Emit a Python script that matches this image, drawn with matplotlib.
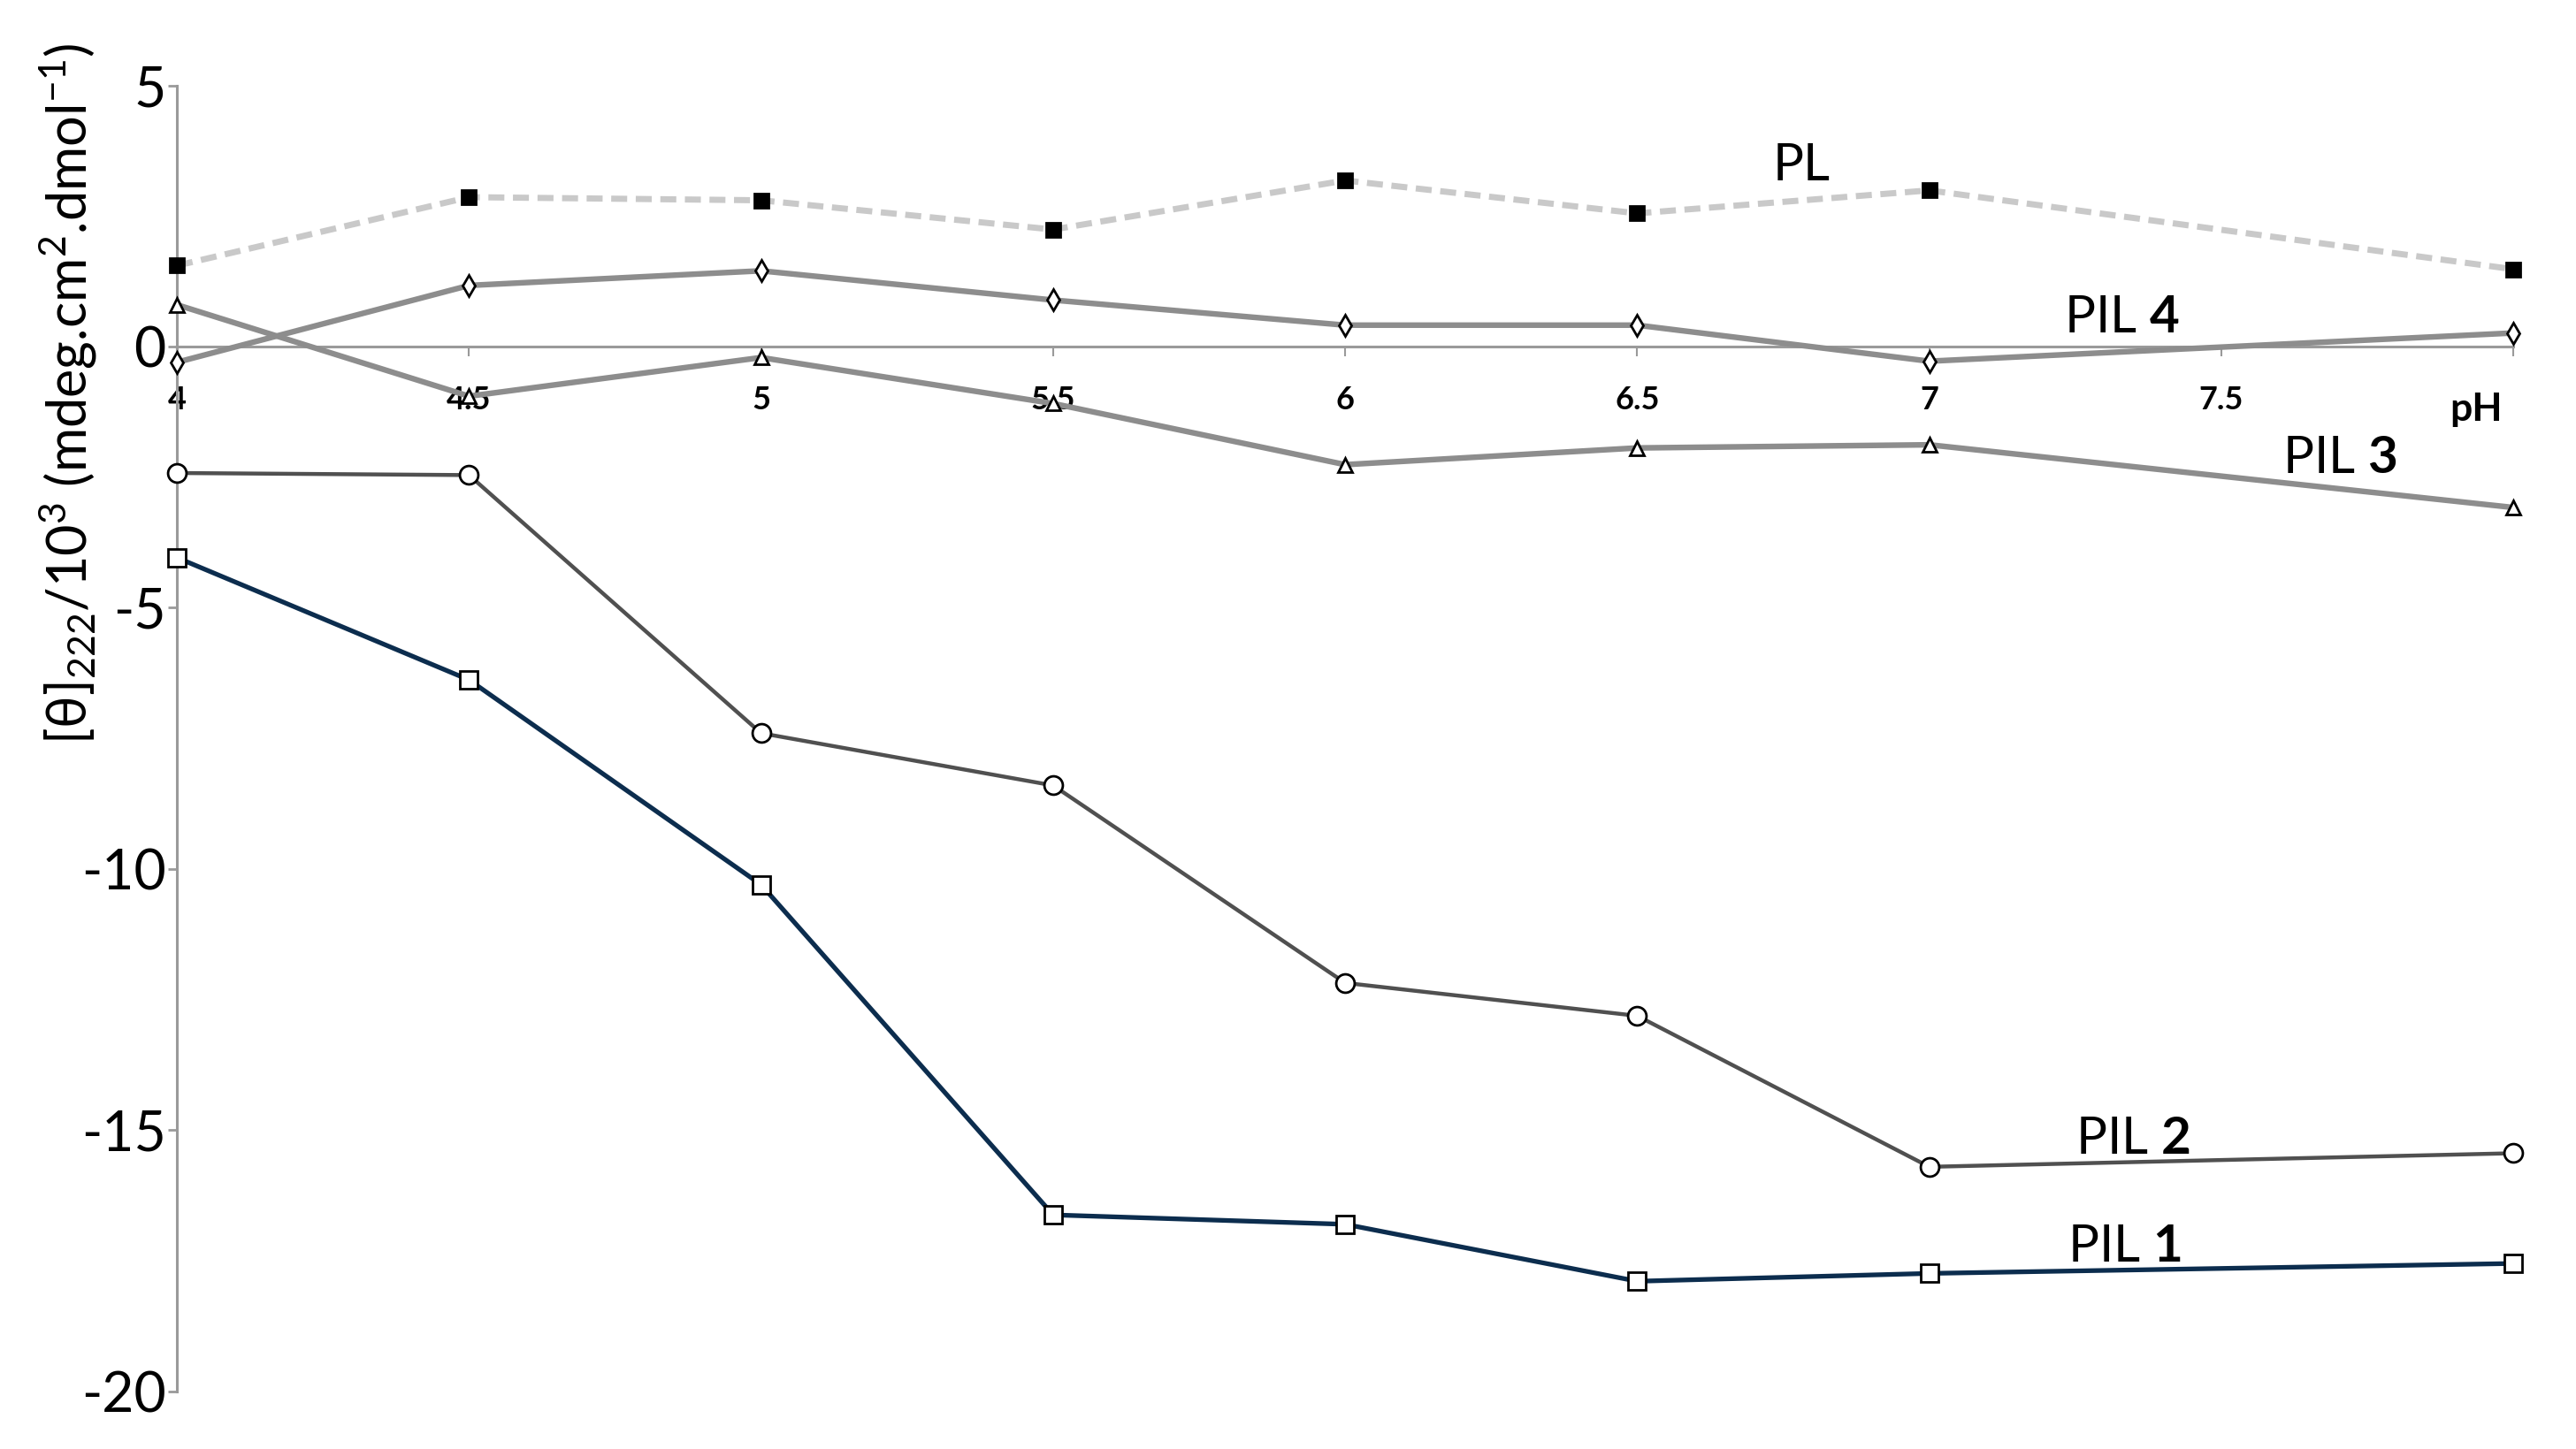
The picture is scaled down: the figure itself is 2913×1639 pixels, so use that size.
import matplotlib.pyplot as plt

# pH values measured
ph_values = [4, 4.5, 5, 5.5, 6, 6.5, 7, 8]
x_ticks = [4, 4.5, 5, 5.5, 6, 6.5, 7, 7.5, 8]
x_tick_labels = ["4", "4.5", "5", "5.5", "6", "6.5", "7", "7.5", ""]
y_ticks = [-20, -15, -10, -5, 0, 5]

# [theta]222 / 10^3 for each sample
pl_values = [1.55, 2.86, 2.80, 2.24, 3.18, 2.55, 2.99, 1.48]
pil4_values = [-0.30, 1.17, 1.45, 0.89, 0.41, 0.41, -0.28, 0.26]
pil3_values = [0.80, -0.95, -0.21, -1.09, -2.26, -1.94, -1.88, -3.08]
pil2_values = [-2.42, -2.46, -7.40, -8.40, -12.18, -12.81, -15.70, -15.44]
pil1_values = [-4.04, -6.38, -10.30, -16.62, -16.80, -17.89, -17.74, -17.55]

plt.rcParams['font.family'] = ['Lato', 'DejaVu Sans']
plt.rcParams['mathtext.fontset'] = 'custom'
plt.rcParams['mathtext.rm'] = 'Lato'
plt.rcParams['mathtext.bf'] = 'Lato:bold'

fig = plt.figure(figsize=(29.13, 16.39), dpi=100)
ax = fig.add_axes([0.0687, 0.0397, 0.9070, 0.9014])

# Series styles: (values, colour, linewidth, marker, markersize, facecolour, dashed)
series = [
    (pl_values, "#c9c9c9", 5.0, "s", 12, "black", True),
    (pil4_values, "#8d8d8d", 4.6, "d", 12, "white", False),
    (pil3_values, "#8d8d8d", 4.6, "^", 11, "white", False),
    (pil2_values, "#505050", 3.2, "o", 15, "white", False),
    (pil1_values, "#0c2d4e", 3.8, "s", 15, "white", False),
]
for values, colour, lw, marker, ms, face, dashed in series:
    line, = ax.plot(ph_values, values, color=colour, linewidth=lw, marker=marker,
                    markersize=ms, markerfacecolor=face, markeredgecolor="black",
                    markeredgewidth=2, zorder=3, clip_on=False)
    if dashed:
        line.set_dashes((2.6, 1.4))

# Axes: x axis runs through zero, y axis on the left
ax.set_xlim(4, 8)
ax.set_ylim(-20, 5)
ax.spines['top'].set_visible(False)
ax.spines['right'].set_visible(False)
ax.spines['bottom'].set_position(('data', 0))
for side in ['left', 'bottom']:
    ax.spines[side].set_color("#9a9a9a")
    ax.spines[side].set_linewidth(2.2)

ax.set_xticks(x_ticks)
ax.set_xticklabels(x_tick_labels, fontsize=26, fontweight='bold')
ax.tick_params(axis='x', direction='out', length=8, width=1.5, color="#9a9a9a", pad=24)
ax.set_yticks(y_ticks)
ax.set_yticklabels([str(v) for v in y_ticks], fontsize=45)
ax.tick_params(axis='y', direction='out', length=7, width=2, color="#9a9a9a", pad=2)

ax.set_ylabel(r"[θ]$_{222}$/10$^{3}$ (mdeg.cm$^{2}$.dmol$^{-1}$)", fontsize=44)
ax.yaxis.label.set_va('center')
ax.yaxis.set_label_coords(-0.0465, 0.764)

# Series labels and axis unit
ax.text(6.732, 3.18, "PL", fontsize=42, ha='left', va='baseline')
ax.text(7.230, 0.27, r"PIL $\mathbf{4}$", fontsize=42, ha='left', va='baseline')
ax.text(7.605, -2.42, r"PIL $\mathbf{3}$", fontsize=42, ha='left', va='baseline')
ax.text(7.250, -15.45, r"PIL $\mathbf{2}$", fontsize=42, ha='left', va='baseline')
ax.text(7.236, -17.51, r"PIL $\mathbf{1}$", fontsize=42, ha='left', va='baseline')
ax.text(7.891, -1.42, "pH", fontsize=32, fontweight='bold', ha='left', va='baseline')

fig.savefig("out.png", dpi=100)
plt.close()
